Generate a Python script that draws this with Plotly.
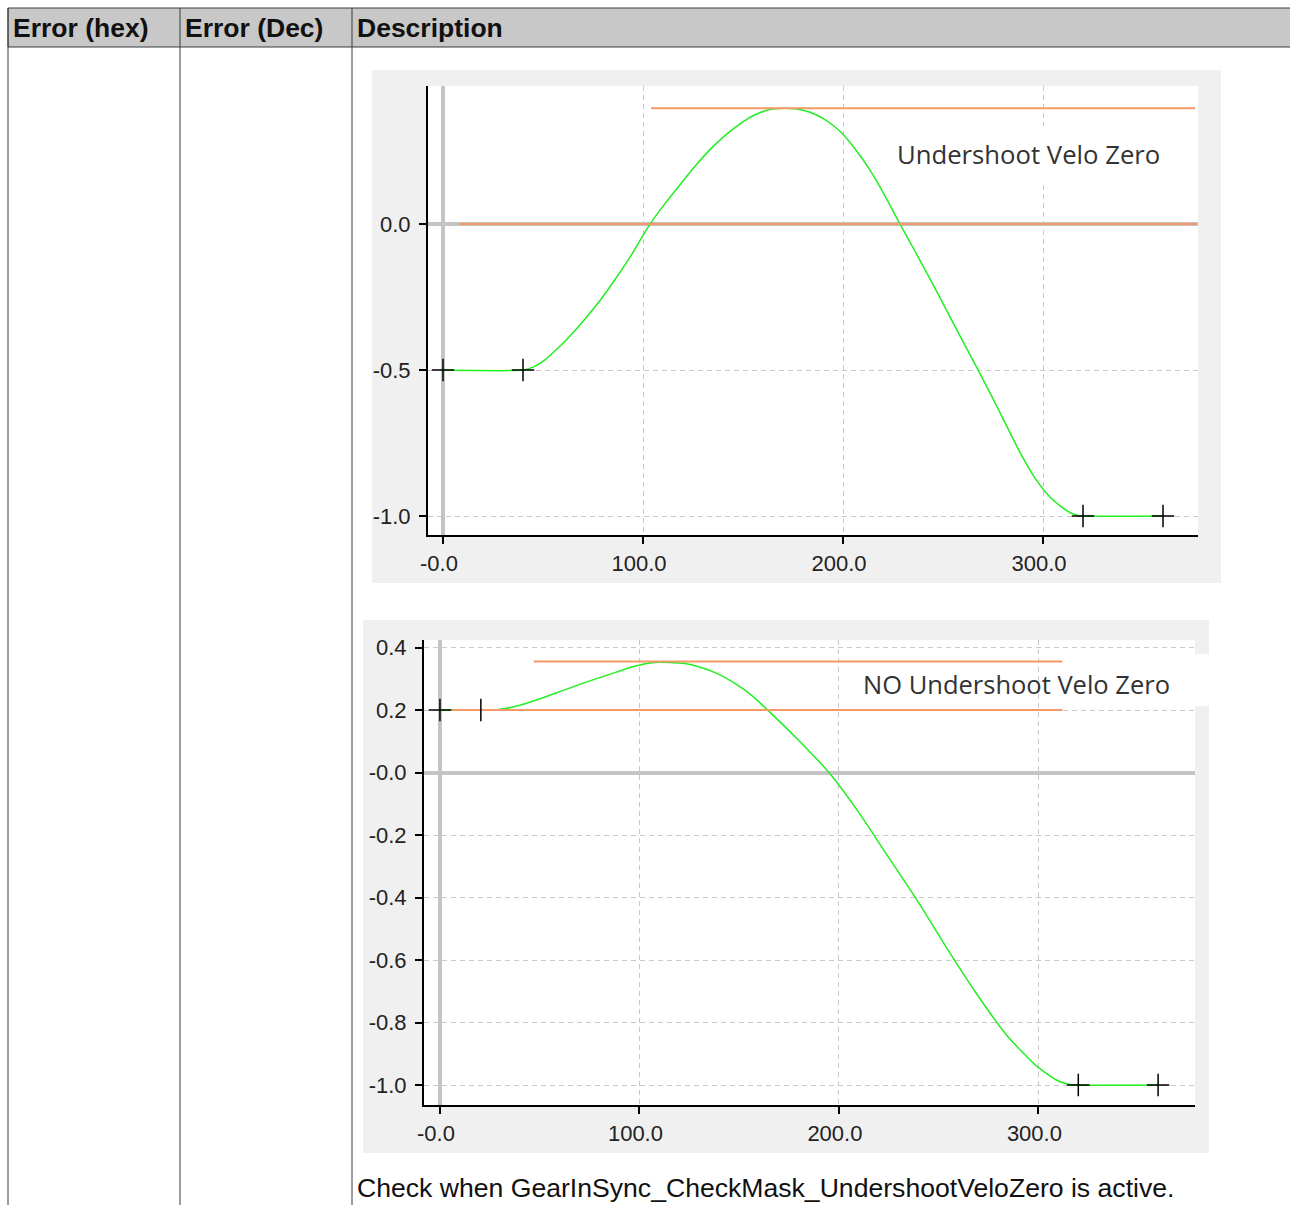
import plotly.graph_objects as go

W, H = 1290, 1205

# ---------------- data ----------------
header_labels = ["Error (hex)", "Error (Dec)", "Description"]
description = "Check when GearInSync_CheckMask_UndershootVeloZero is active."

# top chart: "Undershoot Velo Zero"
top_curve_x = [0, 40, 45, 51, 57, 63.5, 71, 78.5, 86, 93.5, 103.5, 111, 118.5, 126, 133.5, 141, 148.5,
               155, 161, 166, 171, 176, 183.5, 191, 198.5, 206, 213.5, 221, 228.5, 236, 243.5, 251,
               258.5, 266, 273.5, 281, 288.5, 296, 303.5, 309, 313.5, 317, 320, 360]
top_curve_y = [-0.5, -0.5, -0.49, -0.465, -0.428, -0.383, -0.325, -0.262, -0.19, -0.113, 0.0, 0.07,
               0.135, 0.198, 0.255, 0.303, 0.343, 0.371, 0.388, 0.395, 0.397, 0.395, 0.383, 0.358,
               0.318, 0.258, 0.185, 0.097, 0.0, -0.093, -0.188, -0.285, -0.383, -0.48, -0.578,
               -0.68, -0.782, -0.87, -0.935, -0.968, -0.988, -0.997, -1.0, -1.0]
top_points_x = [0, 40, 320, 360]
top_points_y = [-0.5, -0.5, -1.0, -1.0]
top_max_x = [104, 376]
top_max_y = [0.397, 0.397]
top_zero_x = [8, 377]
top_zero_y = [0.0, 0.0]
top_label = "Undershoot Velo Zero"

# bottom chart: "NO Undershoot Velo Zero"
bot_curve_x = [0, 20, 27.5, 40, 55, 70, 85, 97.5, 107.5, 115, 122.7, 128.8, 138.8, 148.8, 156.4,
               163.9, 179, 195, 209, 224, 239, 254, 269, 284, 299, 309, 314, 319.5, 360]
bot_curve_y = [0.2, 0.2, 0.2, 0.215, 0.247, 0.282, 0.314, 0.34, 0.352, 0.352, 0.349, 0.34, 0.317,
               0.281, 0.246, 0.202, 0.108, 0.0, -0.119, -0.263, -0.407, -0.561, -0.708, -0.84,
               -0.939, -0.984, -0.996, -1.0, -1.0]
bot_points_x = [0, 320, 360]
bot_points_y = [0.2, -1.0, -1.0]
bot_tick_x = [20.5]
bot_tick_y = [0.2]
bot_max_x = [47, 312]
bot_max_y = [0.355, 0.355]
bot_start_x = [6, 312]
bot_start_y = [0.2, 0.2]
bot_label = "NO Undershoot Velo Zero"

top_xticks = [0, 100, 200, 300]
top_xtext = ["-0.0", "100.0", "200.0", "300.0"]
top_yticks = [0.0, -0.5, -1.0]
top_ytext = ["0.0", "-0.5", "-1.0"]
bot_xticks = [0, 100, 200, 300]
bot_xtext = ["-0.0", "100.0", "200.0", "300.0"]
bot_yticks = [0.4, 0.2, 0.0, -0.2, -0.4, -0.6, -0.8, -1.0]
bot_ytext = ["0.4", "0.2", "-0.0", "-0.2", "-0.4", "-0.6", "-0.8", "-1.0"]

# ---------------- style ----------------
GREEN = "#22ee22"
ORANGE = "#f39a66"
GRID = "#c8c8c8"
ZERO = "#c4c4c4"
PANEL = "#f0f0f0"
TABLE_LINE = "#3a3a3a"
HEADER_FILL = "#c8c8c8"


def px(x):
    return x / W


def py(y):
    return 1 - y / H


fig = go.Figure()

# top chart traces
fig.add_trace(go.Scatter(x=top_curve_x, y=top_curve_y, mode="lines",
                         line=dict(color=GREEN, width=1.5, shape="spline", smoothing=0.6),
                         xaxis="x", yaxis="y", showlegend=False))
fig.add_trace(go.Scatter(x=top_max_x, y=top_max_y, mode="lines",
                         line=dict(color=ORANGE, width=2), xaxis="x", yaxis="y", showlegend=False))
fig.add_trace(go.Scatter(x=top_zero_x, y=top_zero_y, mode="lines",
                         line=dict(color=ORANGE, width=2), xaxis="x", yaxis="y", showlegend=False))
fig.add_trace(go.Scatter(x=top_points_x, y=top_points_y, mode="markers",
                         marker=dict(symbol="cross-thin", size=16, line=dict(color="black", width=1.5)),
                         xaxis="x", yaxis="y", showlegend=False))

# bottom chart traces
fig.add_trace(go.Scatter(x=bot_curve_x, y=bot_curve_y, mode="lines",
                         line=dict(color=GREEN, width=1.5, shape="spline", smoothing=0.6),
                         xaxis="x2", yaxis="y2", showlegend=False))
fig.add_trace(go.Scatter(x=bot_max_x, y=bot_max_y, mode="lines",
                         line=dict(color=ORANGE, width=2), xaxis="x2", yaxis="y2", showlegend=False))
fig.add_trace(go.Scatter(x=bot_start_x, y=bot_start_y, mode="lines",
                         line=dict(color=ORANGE, width=2), xaxis="x2", yaxis="y2", showlegend=False))
fig.add_trace(go.Scatter(x=bot_points_x, y=bot_points_y, mode="markers",
                         marker=dict(symbol="cross-thin", size=16, line=dict(color="black", width=1.5)),
                         xaxis="x2", yaxis="y2", showlegend=False))
fig.add_trace(go.Scatter(x=bot_tick_x, y=bot_tick_y, mode="markers",
                         marker=dict(symbol="line-ns", size=16, line=dict(color="black", width=1.5)),
                         xaxis="x2", yaxis="y2", showlegend=False))

tickfont = dict(family="Liberation Sans, Arial, sans-serif", size=22, color="#222222")

axis_common = dict(showline=True, linecolor="black", linewidth=2, mirror=False,
                   ticks="outside", ticklen=7, tickwidth=2, tickcolor="black",
                   showgrid=True, gridcolor=GRID, gridwidth=1, griddash="5px,4px",
                   zeroline=True, zerolinecolor=ZERO, zerolinewidth=4, automargin=False,
                   tickfont=tickfont, fixedrange=True, tickmode="array")

fig.update_layout(
    width=W, height=H, autosize=False,
    margin=dict(l=0, r=0, t=0, b=0, pad=0, autoexpand=False),
    paper_bgcolor="white",
    plot_bgcolor="rgba(0,0,0,0)",
    xaxis=dict(domain=[px(428), px(1198)], range=[-7.5, 377.5], anchor="y",
               tickvals=top_xticks, ticktext=top_xtext, ticklabelstandoff=1, ticklabelshift=-4,
               **axis_common),
    yaxis=dict(domain=[py(535), py(86)], range=[-1.065, 0.473], anchor="x",
               tickvals=top_yticks, ticktext=top_ytext, ticklabelstandoff=4, **axis_common),
    xaxis2=dict(domain=[px(424), px(1195)], range=[-8, 378.5], anchor="y2",
                tickvals=bot_xticks, ticktext=bot_xtext, ticklabelstandoff=1, ticklabelshift=-4,
                **axis_common),
    yaxis2=dict(domain=[py(1105), py(640)], range=[-1.064, 0.424], anchor="x2",
                tickvals=bot_yticks, ticktext=bot_ytext, ticklabelstandoff=4, **axis_common),
)

shapes = []
# gray panels
shapes.append(dict(type="rect", xref="paper", yref="paper", x0=px(372), x1=px(1221), y0=py(583), y1=py(70),
                   fillcolor=PANEL, line=dict(width=0), layer="below"))
shapes.append(dict(type="rect", xref="paper", yref="paper", x0=px(363), x1=px(1209), y0=py(1153), y1=py(620),
                   fillcolor=PANEL, line=dict(width=0), layer="below"))
# white plot areas
shapes.append(dict(type="rect", xref="paper", yref="paper", x0=px(428), x1=px(1198), y0=py(535), y1=py(86),
                   fillcolor="white", line=dict(width=0), layer="below"))
shapes.append(dict(type="rect", xref="paper", yref="paper", x0=px(424), x1=px(1195), y0=py(1105), y1=py(640),
                   fillcolor="white", line=dict(width=0), layer="below"))
# white label box extension in bottom chart
shapes.append(dict(type="rect", xref="paper", yref="paper", x0=px(1195), x1=px(1209), y0=py(706), y1=py(654),
                   fillcolor="white", line=dict(width=0), layer="below"))
# table header
shapes.append(dict(type="rect", xref="paper", yref="paper", x0=px(8), x1=px(1292), y0=py(47), y1=py(8),
                   fillcolor=HEADER_FILL, line=dict(color=TABLE_LINE, width=1), layer="below"))
for xv in [8, 180, 352]:
    shapes.append(dict(type="line", xref="paper", yref="paper", x0=px(xv), x1=px(xv), y0=py(8), y1=py(1206),
                       line=dict(color=TABLE_LINE, width=1), layer="above"))
fig.update_layout(shapes=shapes)

annotations = []
for lbl, xv in zip(header_labels, [11, 183, 355]):
    annotations.append(dict(text=lbl, xref="paper", yref="paper", x=px(xv), y=py(28),
                            xanchor="left", yanchor="middle", showarrow=False,
                            font=dict(family="Liberation Sans, Arial, sans-serif", size=26.5, color="#111111",
                                      weight="bold")))
annotations.append(dict(text=description, xref="paper", yref="paper", x=px(355), y=py(1188),
                        xanchor="left", yanchor="middle", showarrow=False,
                        font=dict(family="Liberation Sans, Arial, sans-serif", size=26.6, color="#111111")))
annotations.append(dict(text=top_label, xref="paper", yref="paper", x=px(1028), y=py(155),
                        xanchor="center", yanchor="middle", showarrow=False, bgcolor="white", borderpad=10,
                        font=dict(family="Open Sans, Noto Sans, sans-serif", size=25.7, color="#333333")))
annotations.append(dict(text=bot_label, xref="paper", yref="paper", x=px(1016), y=py(684),
                        xanchor="center", yanchor="middle", showarrow=False,
                        font=dict(family="Open Sans, Noto Sans, sans-serif", size=25.5, color="#333333")))
fig.update_layout(annotations=annotations)

fig.write_html("out.html", include_plotlyjs=True, config=dict(displayModeBar=False))
